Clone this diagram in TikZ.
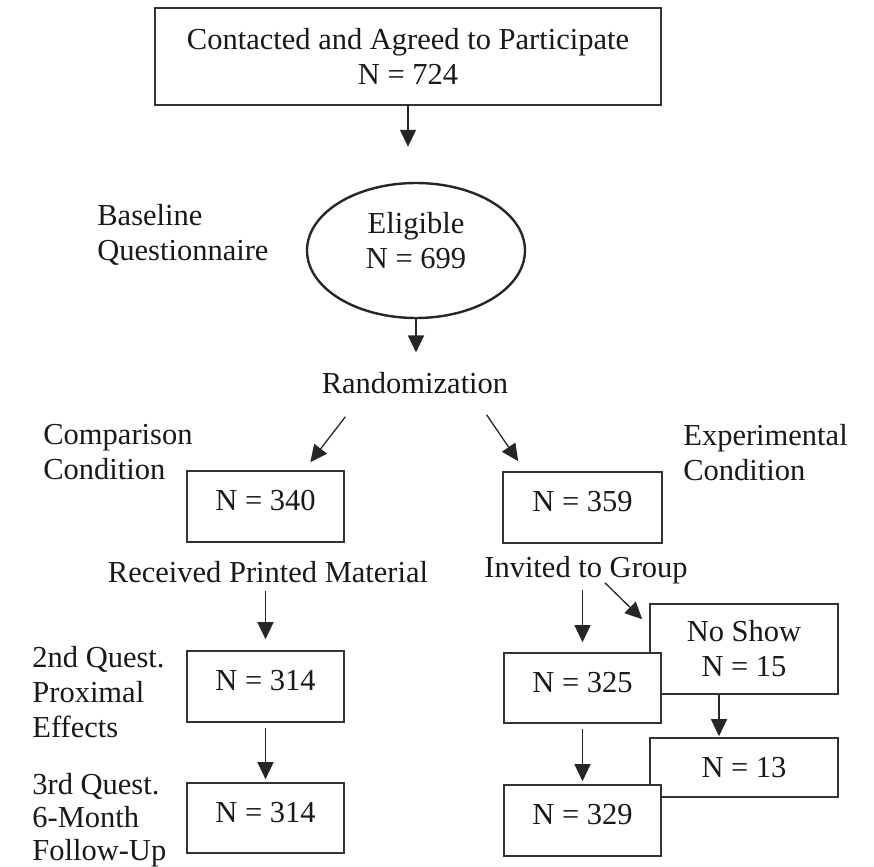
\documentclass[tikz,border=0pt]{standalone}
\usepackage{fontspec}
\setmainfont{Liberation Serif}
\usepackage{tikz}
\usetikzlibrary{
  arrows.meta,
  positioning,
  shapes.geometric
}

\begin{document}
\begin{tikzpicture}[
    x=0.5pt, y=-0.5pt,
    font=\fontsize{15.25}{17.5}\selectfont,
    every node/.style={text=black!90},
    box/.style={draw=black!80, line width=0.8pt, fill=white, align=center,
                inner sep=0pt, minimum width=78.5pt, minimum height=35.5pt},
    numbox/.style={box, text depth=6pt},
    oval/.style={ellipse, draw=black!85, line width=1.2pt, align=center,
                 inner sep=0pt, minimum width=109pt, minimum height=67.5pt,
                 text depth=10pt},
    tag/.style={inner sep=0pt, align=left},
    arr/.style={-{Triangle[length=8.5pt, width=8pt]}, line width=0.65pt, draw=black!85},
  ]

  % canvas
  \useasboundingbox (0,0) rectangle (874,867);

  % Top box and eligibility
  \node[box, minimum width=253pt, minimum height=48.5pt] (contact) at (408,56.5)
    {Contacted and Agreed to Participate\\N = 724};
  \node[oval] (elig) at (416,250.5) {Eligible\\N = 699};
  \node[tag, anchor=north west] (baseq) at (97,204) {Baseline\\Questionnaire};

  % Randomization
  \node[inner sep=0pt, anchor=base] (rand) at (415,393) {Randomization};

  % Conditions
  \node[tag, anchor=north west] (cmplab) at (43,424) {Comparison\\Condition};
  \node[tag, anchor=north west] (explab) at (683,424) {Experimental\\Condition};
  \node[numbox] (cmp) at (265.5,506.5) {N = 340};
  \node[numbox, minimum width=79.5pt] (exp) at (582.5,507.5) {N = 359};

  \node[inner sep=0pt, anchor=base] (recv) at (268,582) {Received Printed Material};
  \node[inner sep=0pt, anchor=base] (inv) at (586,577) {Invited to Group};

  % Comparison arm
  \node[tag, anchor=north west] (q2lab) at (32,646) {2nd Quest.\\Proximal\\Effects};
  \node[tag, anchor=north west, font=\fontsize{15.25}{16.5}\selectfont] (q3lab) at (32,773)
    {3rd Quest.\\6-Month\\Follow-Up};
  \node[numbox] (cmpq2) at (265.5,686.5) {N = 314};
  \node[numbox, minimum height=35pt] (cmpq3) at (265.5,818) {N = 314};

  % Experimental arm (side boxes sit behind)
  \node[box, minimum width=94pt, minimum height=45pt] (noshow) at (744,649) {No Show\\N = 15};
  \node[box, minimum width=94pt, minimum height=29.5pt] (late) at (744,767.5) {N = 13};
  \node[numbox, minimum height=35pt] (expq2) at (582.5,688) {N = 325};
  \node[numbox] (expq3) at (582.5,820.5) {N = 329};

  % Arrows
  \draw[arr, shorten >=17.5pt] (contact.south) -- (contact.south |- elig.north);
  \draw[arr, shorten >=9.5pt] (elig.south) -- (elig.south |- rand.north);
  \draw[arr] ([shift={(24,23)}]rand.south west) -- ([shift={(-34.5,-8)}]cmp.north east);
  \draw[arr] ([shift={(-22,21)}]rand.south east) -- ([shift={(16,-10)}]exp.north west);

  \draw[arr, shorten <=4pt, shorten >=5.5pt] (cmpq2.north |- recv.south) -- (cmpq2.north);
  \draw[arr, shorten <=2.5pt, shorten >=1.5pt] (cmpq2.south) -- (cmpq3.north);

  \draw[arr, shorten <=3pt, shorten >=5pt] (expq2.north |- inv.south) -- (expq2.north);
  \draw[arr] ([shift={(19,-1)}]inv.south) -- ([shift={(-7,16)}]noshow.north west);
  \draw[arr, shorten >=0.5pt] ([xshift=-12.5pt]noshow.south) -- ([xshift=-12.5pt]late.north);
  \draw[arr, shorten <=2.5pt, shorten >=1.5pt] (expq2.south) -- (expq3.north);

\end{tikzpicture}
\end{document}
